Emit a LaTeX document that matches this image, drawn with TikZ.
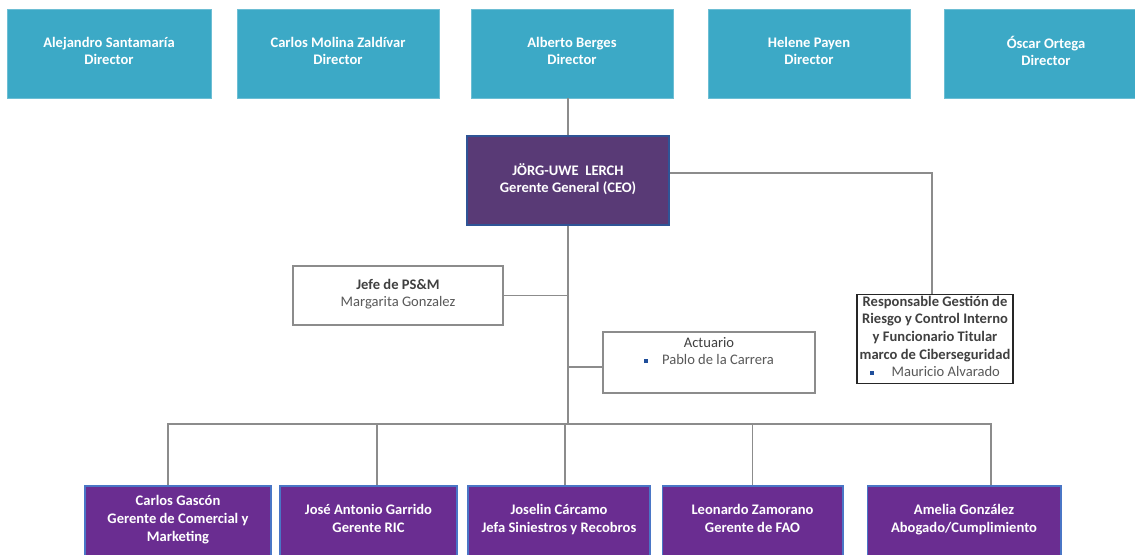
\documentclass[tikz,border=0pt]{standalone}
\usepackage{fontspec}
\setmainfont{Carlito}
\usetikzlibrary{calc}

\definecolor{dirteal}{RGB}{60,169,198}
\definecolor{ceopurple}{RGB}{89,58,118}
\definecolor{ceoedge}{RGB}{47,84,150}
\definecolor{mgrpurple}{RGB}{106,45,145}
\definecolor{mgredge}{RGB}{74,118,198}
\definecolor{linkgray}{RGB}{140,140,140}
\definecolor{darktext}{RGB}{64,64,64}
\definecolor{softtext}{RGB}{89,89,89}
\definecolor{bulletblue}{RGB}{31,78,154}

\newcommand\sqbullet{\textcolor{bulletblue}{\rule[0.25ex]{2.2pt}{2.2pt}}}

\tikzset{
  box/.style={rectangle, align=center, inner sep=1pt,
    font=\fontsize{8.3}{10}\selectfont, execute at begin node=\strut},
  dirbox/.style={box, fill=dirteal, draw=dirteal!75!white, text=white,
    font=\fontsize{8.3}{10}\selectfont\bfseries, minimum height=1.78cm},
  ceobox/.style={box, fill=ceopurple, draw=ceoedge, line width=0.8pt, text=white,
    font=\fontsize{8.3}{10}\selectfont\bfseries,
    minimum width=4.04cm, minimum height=1.78cm},
  mgrbox/.style={box, fill=mgrpurple, draw=mgredge, line width=0.6pt, text=white,
    font=\fontsize{8.3}{10}\selectfont\bfseries, minimum height=1.4cm},
  staffbox/.style={box, fill=white, draw=linkgray, line width=0.9pt, text=softtext},
  riskbox/.style={box, fill=white, draw=black!85, line width=0.9pt, text=darktext,
    minimum width=3.12cm, minimum height=1.76cm},
  link/.style={draw=linkgray, line width=0.75pt}
}

\begin{document}
\begin{tikzpicture}[x=0.02cm, y=-0.02cm]
  \useasboundingbox (0,0) rectangle (1135,554);
  \clip (0,0) rectangle (1135,554);

  % directors
  \node[dirbox, minimum width=4.08cm] (dirA) at (109,53.5) {Alejandro Santamaría\\Director};
  \node[dirbox, minimum width=4.04cm] (dirB) at (338,53.5) {Carlos Molina Zaldívar\\Director};
  \node[dirbox, minimum width=4.04cm] (dirC) at (572,53.5) {Alberto Berges\\Director};
  \node[dirbox, minimum width=4.04cm] (dirD) at (809,53.5) {Helene Payen\\Director};
  \node[dirbox, minimum width=4.08cm] (dirE) at (1046,53.5) {Óscar Ortega\\Director};

  % general manager
  \node[ceobox] (ceo) at (568,180.5) {JÖRG-UWE\ \ LERCH\\Gerente General (CEO)};

  % staff
  \node[staffbox, minimum width=4.2cm, minimum height=1.18cm] (jefe) at (398,295.5)
    {\textcolor{darktext}{\bfseries Jefe de PS\&M}\\Margarita Gonzalez};
  \node[staffbox, minimum width=4.24cm, minimum height=1.22cm] (act) at (709,362.5)
    {\textcolor{darktext}{Actuario}\\\sqbullet\hspace{8pt}Pablo de la Carrera\\\strut};
  \node[riskbox] (risk) at (935,339)
    {\bfseries Responsable Gestión de\\\bfseries Riesgo y Control Interno\\
     \bfseries y Funcionario Titular\\\bfseries marco de Ciberseguridad\\
     \textcolor{softtext}{\sqbullet\hspace{10pt}Mauricio Alvarado}};

  % managers
  \node[mgrbox, minimum width=3.72cm] (mgrA) at (178,521) {Carlos Gascón\\Gerente de Comercial y\\Marketing};
  \node[mgrbox, minimum width=3.54cm] (mgrB) at (368.5,521) {José Antonio Garrido\\Gerente RIC};
  \node[mgrbox, minimum width=3.64cm] (mgrC) at (559,521) {Joselin Cárcamo\\Jefa Siniestros y Recobros};
  \node[mgrbox, minimum width=3.62cm] (mgrD) at (752.5,521) {Leonardo Zamorano\\Gerente de FAO};
  \node[mgrbox, minimum width=3.88cm] (mgrE) at (964,521) {Amelia González\\Abogado/Cumplimiento};

  \coordinate (bus) at (568,424);
  \coordinate (dropA) at ([xshift=-0.2cm]mgrA.north);
  \coordinate (dropB) at ([xshift=0.17cm]mgrB.north);
  \coordinate (dropC) at ([xshift=0.12cm]mgrC.north);
  \coordinate (dropD) at (mgrD.north);
  \coordinate (dropE) at ([xshift=0.54cm]mgrE.north);
  \coordinate (ceoout) at ([yshift=0.15cm]ceo.east);
  \coordinate (riskin) at ([xshift=-0.06cm]risk.north);
  \coordinate (actin) at ([yshift=-0.09cm]act.west);

  % connectors
  \draw[link] (ceo.north) -- (ceo.north |- dirC.south);
  \draw[link] (ceoout) -| (riskin);
  \draw[link] (ceo.south) -- (bus);
  \draw[link] (jefe.east) -- (jefe.east -| bus);
  \draw[link] (actin) -- (actin -| bus);
  \draw[link] (dropA) |- (bus) -| (dropE);
  \foreach \d in {dropB,dropC,dropD}
    \draw[link] (\d) -- (\d |- bus);
\end{tikzpicture}
\end{document}
